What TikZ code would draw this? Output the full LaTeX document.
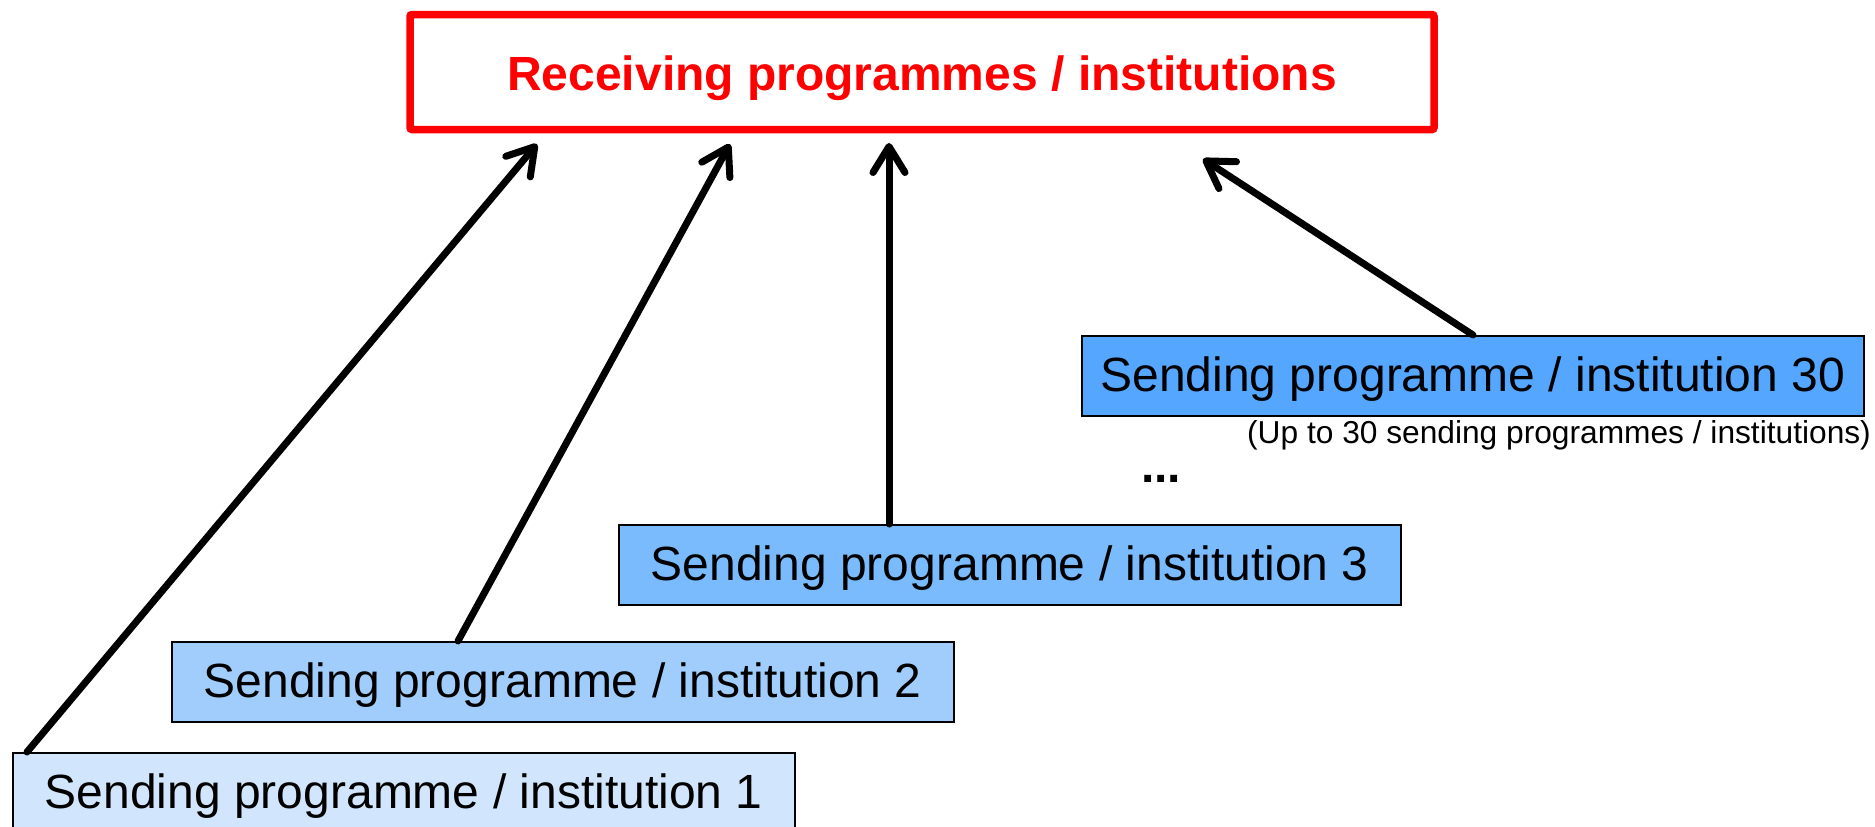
\documentclass[tikz,border=0pt]{standalone}
\usepackage{fontspec}
\setmainfont{Liberation Sans}
\usetikzlibrary{arrows.meta}
\definecolor{red0}{RGB}{255,0,0}
\definecolor{blueA}{RGB}{209,230,253}
\definecolor{blueB}{RGB}{161,205,252}
\definecolor{blueC}{RGB}{121,187,253}
\definecolor{blueD}{RGB}{85,166,254}
\tikzset{
  sendbox/.style={draw=black, line width=1.5pt, anchor=north west,
    minimum width=782pt, minimum height=80pt, inner sep=0pt,
    text height=35pt, text depth=4pt,
    font=\fontsize{48}{58}\selectfont},
  recvbox/.style={draw=red0, line width=7.5pt, rounded corners=2pt,
    minimum width=1024pt, minimum height=115pt, inner sep=0pt,
    text height=37pt, text depth=0pt,
    text=red0, font=\fontsize{48}{58}\selectfont\bfseries},
  flow/.style={line width=7pt, line cap=round,
    -{Straight Barb[length=26pt,width=32pt,round]}}
}
\begin{document}
\begin{tikzpicture}[x=1pt,y=-1pt]
\useasboundingbox (0,0) rectangle (1875,827);
\node[recvbox] (r) at (922,72) {Receiving programmes / institutions};
\node[sendbox, fill=blueA] (b1) at (12,752) {Sending programme / institution 1};
\node[sendbox, fill=blueB] (b2) at (171,641) {Sending programme / institution 2};
\node[sendbox, fill=blueC] (b3) at (618,524) {Sending programme / institution 3};
\node[sendbox, fill=blueD] (b4) at (1081,335) {Sending programme / institution 30};
\node[anchor=base, font=\fontsize{48}{58}\selectfont\bfseries] (dots) at (1161,482) {...};
\node[font=\fontsize{31.7}{38}\selectfont, inner sep=0pt] (note) at (1559,435) {(Up to 30 sending programmes / institutions)};
\coordinate (t1) at (537,144);
\coordinate (t2) at (730,144);
\coordinate (t3) at (889,143);
\coordinate (t4) at (1203,159);
\draw[flow] ([xshift=15pt]b1.north west) -- (t1);
\draw[flow] ([xshift=287pt]b2.north west) -- (t2);
\draw[flow] ([xshift=271pt]b3.north west) -- (t3);
\draw[flow] ([xshift=392pt]b4.north west) -- (t4);
\end{tikzpicture}
\end{document}
